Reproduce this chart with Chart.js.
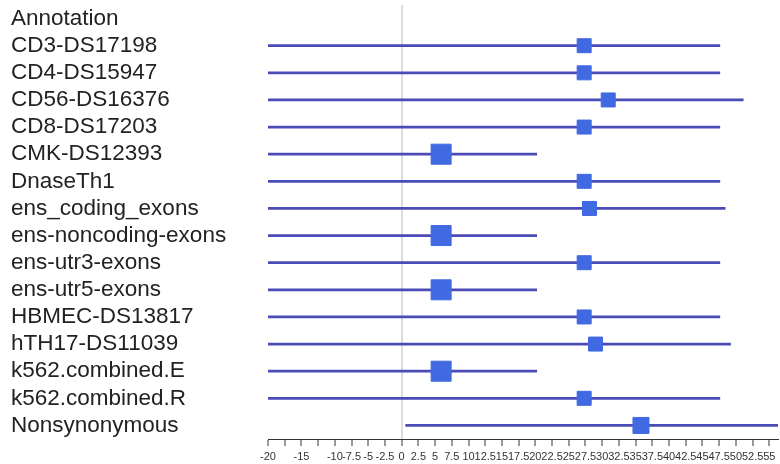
<!DOCTYPE html>
<html>
<head>
<meta charset="utf-8">
<script src="https://cdn.jsdelivr.net/npm/chart.js@4/dist/chart.umd.min.js"></script>
<style>
  html, body { margin: 0; padding: 0; background: #fff; }
  #wrap { width: 780px; height: 464px; }
</style>
</head>
<body>
<div id="wrap"><canvas id="forest"></canvas></div>
<script>
// Rows of the forest plot (first row is the column header)
const header = "Annotation";
const annotations = [
  "CD3-DS17198", "CD4-DS15947", "CD56-DS16376", "CD8-DS17203", "CMK-DS12393",
  "DnaseTh1", "ens_coding_exons", "ens-noncoding-exons", "ens-utr3-exons", "ens-utr5-exons",
  "HBMEC-DS13817", "hTH17-DS11039", "k562.combined.E", "k562.combined.R", "Nonsynonymous"
];
const estimate = [27.3, 27.3, 30.9, 27.3, 5.9, 27.3, 28.1, 5.9, 27.3, 5.9, 27.3, 29.0, 5.9, 27.3, 35.8];
const lower    = [-21, -21, -21, -21, -21, -21, -21, -21, -21, -21, -21, -21, -21, -21, 0.6];
const upper    = [47.6, 47.6, 51.1, 47.6, 20.2, 47.6, 48.4, 20.2, 47.6, 20.2, 47.6, 49.2, 20.2, 47.6, 60];
const weight   = [0.49, 0.49, 0.49, 0.49, 1, 0.49, 0.49, 1, 0.49, 1, 0.49, 0.49, 1, 0.49, 0.64];

// x axis ticks every 2.5, a couple of labels left out
const tickValues = [-20, -17.5, -15, -12.5, -10, -7.5, -5, -2.5, 0, 2.5, 5, 7.5, 10, 12.5, 15, 17.5,
  20, 22.5, 25, 27.5, 30, 32.5, 35, 37.5, 40, 42.5, 45, 47.5, 50, 52.5, 55];
const tickLabels = ["-20", "", "-15", "", "-10", "-7.5", "-5", "-2.5", "0", "2.5", "5", "7.5", "10", "12.5", "15", "17.5",
  "20", "22.5", "25", "27.5", "30", "32.5", "35", "37.5", "40", "42.5", "45", "47.5", "50", "52.5", "55"];

const rows = [header, ...annotations];
const ciData = [null, ...annotations.map((_, i) => [lower[i], upper[i]])];
const pointData = annotations.map((name, i) => ({ x: estimate[i], y: name }));
const boxRadius = weight.map(w => 20 * Math.sqrt(w) / Math.SQRT2);

const font = "'Liberation Sans', Arial, Helvetica, sans-serif";

// labels may overhang the plot edges; don't let them shrink the plot
function noPadding(scale) {
  scale.paddingLeft = scale.paddingRight = scale.paddingTop = scale.paddingBottom = 0;
  scale.getPadding = () => ({ left: 0, right: 0, top: 0, bottom: 0 });
}

new Chart(document.getElementById("forest"), {
  type: "bar",
  data: {
    labels: rows,
    datasets: [
      {
        type: "bar",
        data: ciData,
        backgroundColor: "#4b4bb8",
        barThickness: 2,
        clip: 0,
        order: 2
      },
      {
        type: "scatter",
        data: pointData,
        pointStyle: "rect",
        pointRadius: boxRadius,
        backgroundColor: "#4169e1",
        borderColor: "#4169e1",
        borderWidth: 1,
        order: 1
      }
    ]
  },
  options: {
    indexAxis: "y",
    responsive: true,
    maintainAspectRatio: false,
    animation: false,
    layout: { autoPadding: false, padding: { left: 11, right: 2, top: 5, bottom: 0 } },
    plugins: { legend: { display: false }, tooltip: { enabled: false } },
    scales: {
      x: {
        type: "linear",
        min: -20,
        max: 56.3,
        afterBuildTicks: scale => { scale.ticks = tickValues.map(v => ({ value: v })); },
        afterFit: scale => {
          scale.height = 25;
          noPadding(scale);
        },
        ticks: {
          autoSkip: false,
          maxRotation: 0,
          padding: 4,
          color: "#333",
          font: { family: font, size: 11 },
          callback: (value, index) => tickLabels[index]
        },
        grid: {
          color: ctx => (ctx.tick && ctx.tick.value === 0 ? "#dcdcdc" : "rgba(0,0,0,0)"),
          lineWidth: 2,
          tickColor: "#333",
          tickWidth: 1,
          tickLength: 7
        },
        border: { display: true, color: "#333", width: 1 }
      },
      y: {
        type: "category",
        afterFit: scale => {
          scale.width = 257;
          noPadding(scale);
        },
        ticks: {
          autoSkip: false,
          crossAlign: "far",
          padding: 0,
          color: "#222",
          font: { family: font, size: 22.5, lineHeight: 0.3 }
        },
        grid: { display: false },
        border: { display: false }
      }
    }
  }
});
</script>
</body>
</html>
